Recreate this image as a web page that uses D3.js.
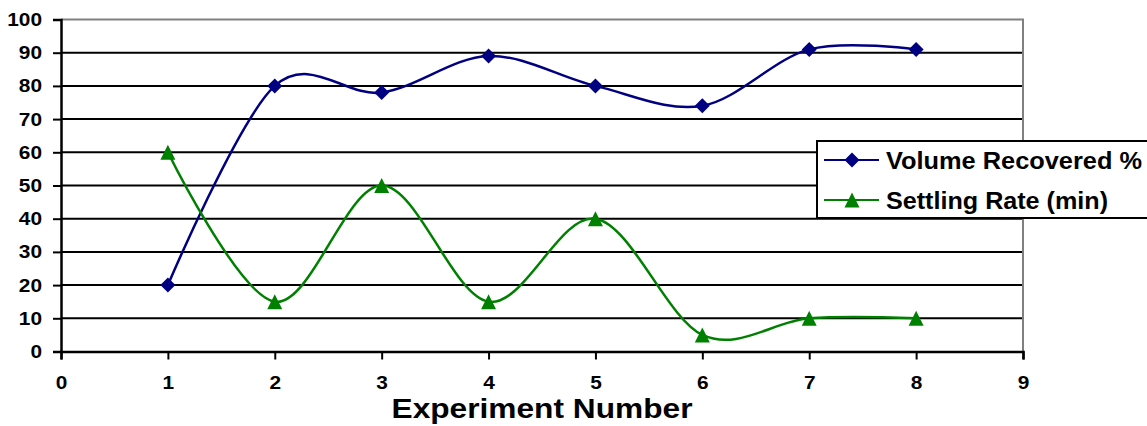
<!DOCTYPE html>
<html>
<head>
<meta charset="utf-8">
<script src="https://cdn.jsdelivr.net/npm/d3@7"></script>
<style>
  html, body { margin: 0; padding: 0; background: #fff; }
  svg { display: block; font-family: Arial, "Liberation Sans", Helvetica, sans-serif; }
</style>
</head>
<body>
<svg id="chart" width="1147" height="426"></svg>
<script>
// Experiment results
const experiments = [1, 2, 3, 4, 5, 6, 7, 8];
const volumeRecovered = [20, 80, 78, 89, 80, 74, 91, 91];
const settlingRate = [60, 15, 50, 15, 40, 5, 10, 10];
const xTicks = [0, 1, 2, 3, 4, 5, 6, 7, 8, 9];
const yTicks = [0, 10, 20, 30, 40, 50, 60, 70, 80, 90, 100];
const seriesNames = ["Volume Recovered %", "Settling Rate (min)"];
const axisTitle = "Experiment Number";

const svg = d3.select("#chart");
const plot = { left: 61, right: 1023, top: 19.5, bottom: 351.5 };

const x = d3.scaleLinear().domain([0, 9]).range([plot.left, plot.right]);
const y = d3.scaleLinear().domain([0, 100]).range([plot.bottom, plot.top]);

// marker shapes: square diamond and isosceles triangle, 15px across
const diamond = {
  draw(ctx, size) {
    const r = Math.sqrt(size) / 2;
    ctx.moveTo(0, -r); ctx.lineTo(r, 0); ctx.lineTo(0, r); ctx.lineTo(-r, 0); ctx.closePath();
  }
};
const triangle = {
  draw(ctx, size) {
    const r = Math.sqrt(size) / 2;
    ctx.moveTo(0, -r); ctx.lineTo(r, r); ctx.lineTo(-r, r); ctx.closePath();
  }
};

// horizontal gridlines
svg.append("g").selectAll("line")
  .data(yTicks.filter(v => v > 0 && v < 100))
  .join("line")
  .attr("x1", plot.left).attr("x2", plot.right)
  .attr("y1", d => y(d)).attr("y2", d => y(d))
  .attr("stroke", "#000").attr("stroke-width", 2);

// plot area frame (top and right in grey)
svg.append("path")
  .attr("d", `M${plot.left},${plot.top}H${plot.right}V${plot.bottom}`)
  .attr("fill", "none").attr("stroke", "#808080").attr("stroke-width", 2);

function styleTicks(g) {
  g.selectAll(".tick text")
    .attr("fill", "#000").attr("font-size", 19).attr("font-weight", "bold")
    .attr("font-family", "Arial, 'Liberation Sans', sans-serif")
    .attr("textLength", function () { return this.textContent.length * 11.6; })
    .attr("lengthAdjust", "spacingAndGlyphs");
  g.selectAll(".tick line").attr("stroke", "#000").attr("stroke-width", 2);
  g.select(".domain").attr("stroke", "#000").attr("stroke-width", 2.5);
}

// y axis
svg.append("g")
  .attr("transform", `translate(${plot.left},0)`)
  .call(d3.axisLeft(y).tickValues(yTicks).tickSize(8).tickPadding(11).tickFormat(d3.format("d")))
  .call(styleTicks);

// x axis
svg.append("g")
  .attr("transform", `translate(0,${plot.bottom})`)
  .call(d3.axisBottom(x).tickValues(xTicks).tickSize(8).tickPadding(16).tickFormat(d3.format("d")))
  .call(styleTicks);

// axis title
svg.append("text")
  .attr("x", 542).attr("y", 418)
  .attr("text-anchor", "middle")
  .attr("font-size", 28).attr("font-weight", "bold")
  .attr("textLength", 301).attr("lengthAdjust", "spacingAndGlyphs")
  .text(axisTitle);

// smoothed series lines
const line = d3.line()
  .x((d, i) => x(experiments[i]))
  .y(d => y(d))
  .curve(d3.curveCardinal.tension(0));

const series = [
  { name: seriesNames[0], values: volumeRecovered, color: "#000080", marker: diamond, size: 225 },
  { name: seriesNames[1], values: settlingRate, color: "#008000", marker: triangle, size: 225 }
];

series.forEach(s => {
  svg.append("path")
    .datum(s.values)
    .attr("d", line)
    .attr("fill", "none")
    .attr("stroke", s.color)
    .attr("stroke-width", 2.5);
  svg.append("g").selectAll("path")
    .data(s.values)
    .join("path")
    .attr("transform", (d, i) => `translate(${x(experiments[i])},${y(d)})`)
    .attr("d", d3.symbol().type(s.marker).size(s.size))
    .attr("fill", s.color);
});

// legend
const legend = svg.append("g");
legend.append("rect")
  .attr("x", 817).attr("y", 141)
  .attr("width", 345).attr("height", 77)
  .attr("fill", "#fff").attr("stroke", "#000").attr("stroke-width", 2);

series.forEach((s, i) => {
  const cy = 160 + i * 40;
  legend.append("line")
    .attr("x1", 824).attr("x2", 879).attr("y1", cy).attr("y2", cy)
    .attr("stroke", s.color).attr("stroke-width", 2);
  legend.append("path")
    .attr("transform", `translate(852,${cy})`)
    .attr("d", d3.symbol().type(s.marker).size(s.size))
    .attr("fill", s.color);
  legend.append("text")
    .attr("x", 886).attr("y", cy + 8.5)
    .attr("font-size", 23).attr("font-weight", "bold")
    .attr("fill", "#000")
    .attr("textLength", i === 0 ? 256 : 222)
    .attr("lengthAdjust", "spacingAndGlyphs")
    .text(s.name);
});
</script>
</body>
</html>
